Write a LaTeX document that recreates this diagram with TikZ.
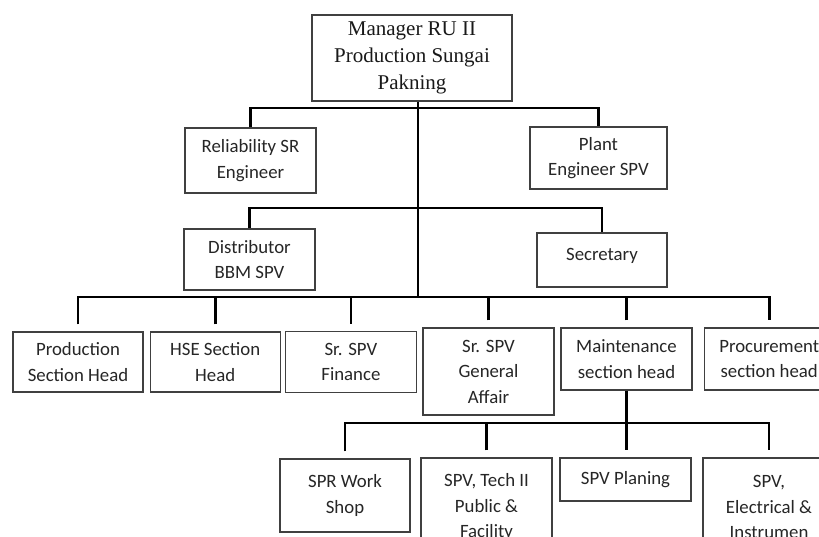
\documentclass[tikz,border=0pt]{standalone}
\usepackage{fontspec}
\setmainfont{Carlito}
\newfontfamily\headfont{Liberation Serif}
\usetikzlibrary{positioning, calc}
\tikzset{%
  box/.style={draw=black!75, line width=1.2pt, rectangle, align=center, inner sep=0pt,
    minimum width=131pt, text=black!85, font=\fontsize{18.8}{25.5}\selectfont},
  head/.style={box, minimum width=200pt, minimum height=86pt, text=black!90,
    font=\headfont\fontsize{21}{27}\selectfont},
  link/.style={line width=2.8pt},
  gap/.style={shorten <=7pt, shorten >=7pt}
}
\begin{document}
\begin{tikzpicture}[x=1pt,y=-1pt]
  \useasboundingbox (0,0) rectangle (819,536);
  \fill[white] (0,0) rectangle (819,536);
  \clip (0,0) rectangle (819,536);

  % top
  \node[head] (mgr) at (412,58) {Manager RU II\\Production Sungai\\Pakning};
  \node[box, minimum height=65pt] (rel) at (250.5,160.5) {Reliability SR\\Engineer};
  \node[box, minimum width=137pt, minimum height=62pt] (plant) at (598.5,158) {Plant\\Engineer SPV};

  \node[box, minimum height=61pt] (dist) at (249.5,259.5) {Distributor\\BBM SPV};
  \node[box, minimum width=130pt, minimum height=54pt, text depth=12pt] (secr) at (602,260) {Secretary};

  % section heads
  \node[box, minimum width=130pt, minimum height=60pt] (prod) at (78,362) {Production\\Section Head};
  \node[box, minimum width=130pt, minimum height=60pt, right=6pt of prod] (hse) {HSE Section\\Head};
  \node[box, minimum height=61pt, right=4pt of hse] (fin) {Sr. SPV\\Finance};
  \node[box, minimum height=87pt] (gen) at (488.5,371.5) {Sr. SPV\\General\\Affair};
  \node[box, minimum height=62pt] (mnt) at (626.5,359) {Maintenance\\section head};
  \node[box, minimum width=130pt, minimum height=62pt, right=11pt of mnt] (proc) {Procurement\\section head};

  % under maintenance
  \node[box, minimum width=130pt, minimum height=73pt] (work) at (345,495.5) {SPR Work\\Shop};
  \node[box, minimum height=98pt] (tech) at (486.5,507) {SPV, Tech II\\Public \&\\Facility};
  \node[box, minimum height=43pt] (plan) at (625.5,479.5) {SPV Planing};
  \node[box, minimum width=132pt, minimum height=98pt] (elec) at (769,507) {SPV,\\Electrical \&\\Instrumen};

  \coordinate (bus1) at (418,108);
  \coordinate (bus2) at (418,208);
  \coordinate (bus3) at (418,297);
  \coordinate (bus4) at (624,423);

  \draw[link] (mgr.south -| bus1) -- (bus3);
  \draw[link] (rel.north) |- (bus1) -| (plant.north);
  \draw[link] (dist.north) |- (bus2) -| (secr.north);
  \draw[link, gap] (prod.north) |- (bus3) -| (proc.north);
  \foreach \n in {hse,fin,gen,mnt}
    \draw[link, shorten <=7pt] (\n.north) -- (\n.north |- bus3);

  \draw[link, shorten >=7pt] (mnt.south) -- (mnt.south |- plan.north);
  \draw[link, gap] (work.north) |- (bus4) -| (elec.north);
  \draw[link, shorten <=7pt] (tech.north) -- (tech.north |- bus4);
\end{tikzpicture}
\end{document}
